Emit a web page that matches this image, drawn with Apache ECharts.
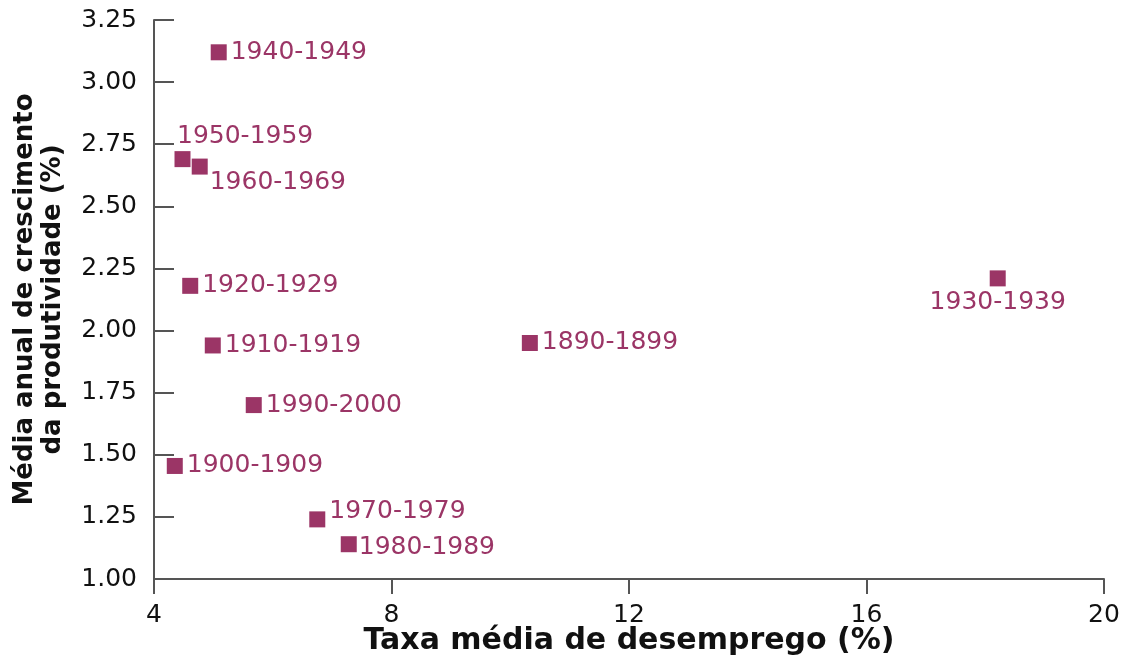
<!DOCTYPE html>
<html>
<head>
<meta charset="utf-8">
<script src="https://cdn.jsdelivr.net/npm/echarts@6/dist/echarts.min.js"></script>
<style>
  html, body { margin: 0; padding: 0; background: #fff; }
  #main { width: 1135px; height: 658px; }
</style>
</head>
<body>
<div id="main"></div>
<script>
  // décadas e valores
  var periods = ['1890-1899', '1900-1909', '1910-1919', '1920-1929', '1930-1939', '1940-1949',
                 '1950-1959', '1960-1969', '1970-1979', '1980-1989', '1990-2000'];
  var unemployment = [10.33, 4.35, 4.99, 4.61, 18.21, 5.09, 4.48, 4.77, 6.75, 7.28, 5.68];
  var productivity = [1.95, 1.455, 1.94, 2.18, 2.21, 3.12, 2.69, 2.66, 1.24, 1.14, 1.70];

  var xTicks = [4, 8, 12, 16, 20];
  var yTicks = ['1.00', '1.25', '1.50', '1.75', '2.00', '2.25', '2.50', '2.75', '3.00', '3.25'];

  // onde fica o rótulo de cada ponto
  var labelPos = {
    '1930-1939': { position: 'bottom', distance: 4 },
    '1950-1959': { position: [2.5, -15], align: 'left', verticalAlign: 'middle' },
    '1960-1969': { position: [18, 24], align: 'left', verticalAlign: 'middle' },
    '1970-1979': { position: [20, 0], align: 'left', verticalAlign: 'middle' },
    '1980-1989': { position: 'right', distance: 2, offset: [0, 3] }
  };

  var points = periods.map(function (p, i) {
    var item = { name: p, value: [unemployment[i], productivity[i]] };
    if (labelPos[p]) item.label = labelPos[p];
    return item;
  });

  var chart = echarts.init(document.getElementById('main'));
  chart.setOption({
    animation: false,
    grid: { left: 154, right: 31, top: 20, bottom: 79, containLabel: false, outerBoundsMode: 'none' },
    xAxis: {
      type: 'value',
      min: xTicks[0],
      max: xTicks[xTicks.length - 1],
      interval: 4,
      name: 'Taxa média de desemprego (%)',
      nameLocation: 'middle',
      nameGap: 47,
      nameMoveOverlap: false,
      nameTextStyle: {
        fontFamily: 'DejaVu Sans', fontWeight: 'bold', fontSize: 30,
        color: '#111', backgroundColor: '#fff', lineHeight: 30
      },
      axisLine: { lineStyle: { color: '#555', width: 2 } },
      axisTick: { length: 15, lineStyle: { color: '#555', width: 2 } },
      axisLabel: {
        margin: 24, fontFamily: 'DejaVu Sans', fontSize: 25, color: '#111'
      },
      splitLine: { show: false }
    },
    yAxis: {
      type: 'value',
      min: 1,
      max: 3.25,
      interval: 0.25,
      name: 'Média anual de crescimento\nda produtividade (%)',
      nameLocation: 'middle',
      nameGap: 87,
      nameMoveOverlap: false,
      nameTextStyle: {
        fontFamily: 'DejaVu Sans', fontWeight: 'bold', fontSize: 26,
        lineHeight: 28, color: '#111'
      },
      axisLine: { show: true, lineStyle: { color: '#555', width: 2 } },
      axisTick: { show: true, inside: true, length: 20, lineStyle: { color: '#555', width: 2 } },
      axisLabel: {
        margin: 17, fontFamily: 'DejaVu Sans', fontSize: 25, color: '#111',
        formatter: function (v) { return yTicks[Math.round((v - 1) / 0.25)]; }
      },
      splitLine: { show: false }
    },
    series: [{
      type: 'scatter',
      symbol: 'rect',
      symbolSize: 16,
      itemStyle: { color: '#9b3566', opacity: 1 },
      label: {
        show: true,
        position: 'right',
        distance: 4,
        formatter: '{b}',
        fontFamily: 'DejaVu Sans',
        fontSize: 25,
        color: '#9b3566'
      },
      data: points
    }]
  });
</script>
</body>
</html>
